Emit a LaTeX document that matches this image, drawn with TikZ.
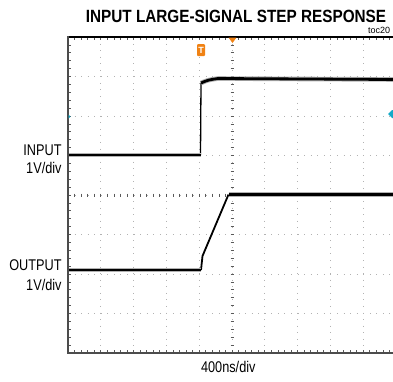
\documentclass[tikz,border=0pt]{standalone}
\usepackage{fontspec}
\setmainfont{Liberation Sans}
\definecolor{scopeorange}{RGB}{240,130,20}
\definecolor{scopecyan}{RGB}{20,170,200}
\begin{document}
\begin{tikzpicture}[x=1pt,y=-1pt,
  griddot/.style={gray!60, line width=0.9pt, dash pattern=on 0.9pt off 5.66pt},
  tickmark/.style={gray!70!black, line width=0.7pt},
  frame/.style={gray!60!black, line width=2pt},
  trace/.style={black, line width=2.8pt, line join=round},
  halo/.style={black!30, line width=4.6pt, line join=round},
  edge/.style={black, line width=1.3pt},
  lbl/.style={font=\fontsize{15.5}{16}\selectfont, xscale=0.82, inner sep=0pt},
]
\useasboundingbox (0,0) rectangle (393,381);
% grid
\foreach \i in {1,...,9} \draw[griddot] ({68+32.8*\i},37) -- ({68+32.8*\i},353);
\foreach \j in {1,...,7} \draw[griddot] (68,{37+39.5*\j}) -- (396,{37+39.5*\j});
% centre crosshair ticks
\foreach \k in {1,...,39} \draw[tickmark] (230.5,{37+7.9*\k}) -- (233.5,{37+7.9*\k});
\foreach \k in {1,...,49} \draw[tickmark] ({68+6.56*\k},193.5) -- ({68+6.56*\k},196.5);
% frame ticks
\foreach \k in {1,...,49} {
  \draw[tickmark] ({68+6.56*\k},37) -- ++(0,3);
  \draw[tickmark] ({68+6.56*\k},353) -- ++(0,-3);
}
\foreach \k in {1,...,39} \draw[tickmark] (68,{37+7.9*\k}) -- ++(3,0);
% frame
\draw[black, line width=2pt] (67,37) -- (396,37);
\draw[frame, line width=2.5pt] (68,36) -- (68,353) -- (396,353);
% input trace
\coordinate (i0) at (69,155);
\coordinate (i1) at (200.5,155);
\coordinate (i2) at (201,83);
\coordinate (i3) at (218,78.5);
\coordinate (i4) at (396,79.5);
\draw[edge] (i1) -- (i2);
\draw[halo] (i0) -- (i1);
\draw[trace] (i0) -- (i1);
\draw[halo] (i2) .. controls (208,80) .. (i3) -- (i4);
\draw[trace] (i2) .. controls (208,80) .. (i3) -- (i4);
% output trace
\coordinate (o0) at (69,270);
\coordinate (o1) at (201,270);
\coordinate (o2) at (202.5,256);
\coordinate (o3) at (228.5,194.5);
\coordinate (o4) at (396,194.5);
\draw[edge, line width=1.8pt] (o1) -- (o2) -- (o3);
\draw[halo] (o0) -- (o1);
\draw[trace] (o0) -- (o1);
\draw[halo] (o3) -- (o4);
\draw[trace] (o3) -- (o4);
% markers
\node[fill=scopeorange, rounded corners=1pt, minimum width=8pt, minimum height=12pt, inner sep=0pt,
  text=white, font=\bfseries\fontsize{9}{9}\selectfont] (trig) at (201,50) {T};
\fill[scopeorange] (228.5,37.5) -- (236.5,37.5) -- (232.5,43) -- cycle;
\fill[scopecyan] (388,114) -- (392,110) -- (396,110) -- (396,118) -- (392,118) -- cycle;
\fill[scopecyan] (68.5,114.5) -- (70.5,116.5) -- (68.5,118.5) -- cycle;
% texts
\node[font=\bfseries\fontsize{17.7}{18}\selectfont, xscale=0.865, inner sep=0pt, anchor=base] (title) at (236,22.7) {INPUT LARGE-SIGNAL STEP RESPONSE};
\node[font=\fontsize{9}{9}\selectfont, inner sep=0pt, anchor=base west] (toc) at (368,33) {toc20};
\node[lbl, anchor=base east] (inlbl) at (61.7,155) {INPUT};
\node[lbl, anchor=base east] (inscale) at (61.7,173.3) {1V/div};
\node[lbl, anchor=base east] (outlbl) at (61.7,270) {OUTPUT};
\node[lbl, anchor=base east] (outscale) at (61.7,290.7) {1V/div};
\node[lbl, anchor=base] (tscale) at (228.3,372.5) {400ns/div};
\end{tikzpicture}
\end{document}
